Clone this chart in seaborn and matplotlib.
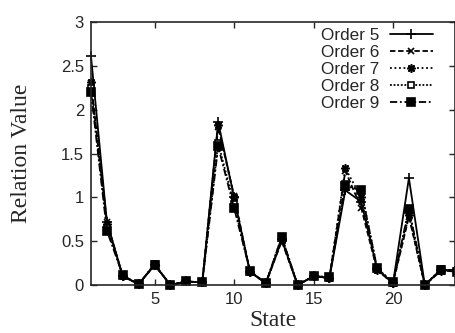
import numpy as np
import pandas as pd
import matplotlib
matplotlib.use("Agg")
import matplotlib.pyplot as plt
import seaborn as sns

states = list(range(1, 25))
order5 = [2.61, 0.72, 0.10, 0.01, 0.23, 0.00, 0.04, 0.03, 1.86, 1.00, 0.15, 0.02,
          0.52, 0.00, 0.10, 0.08, 1.08, 0.95, 0.18, 0.02, 1.22, 0.00, 0.17, 0.17]
order6 = [2.30, 0.72, 0.10, 0.01, 0.23, 0.00, 0.04, 0.03, 1.80, 1.02, 0.15, 0.02,
          0.50, 0.00, 0.10, 0.08, 1.30, 0.88, 0.17, 0.02, 0.78, 0.00, 0.16, 0.17]
order7 = [2.32, 0.70, 0.10, 0.01, 0.23, 0.00, 0.04, 0.03, 1.83, 1.00, 0.15, 0.02,
          0.51, 0.00, 0.10, 0.08, 1.33, 1.00, 0.17, 0.02, 0.80, 0.00, 0.16, 0.18]
order8 = [2.25, 0.65, 0.11, 0.01, 0.24, 0.00, 0.04, 0.03, 1.62, 0.92, 0.16, 0.02,
          0.55, 0.00, 0.10, 0.09, 1.15, 1.08, 0.19, 0.03, 0.85, 0.00, 0.18, 0.16]
order9 = [2.20, 0.62, 0.11, 0.01, 0.23, 0.00, 0.04, 0.03, 1.58, 0.88, 0.16, 0.02,
          0.55, 0.00, 0.10, 0.09, 1.13, 1.08, 0.19, 0.03, 0.87, 0.00, 0.17, 0.15]
labels = ["Order 5", "Order 6", "Order 7", "Order 8", "Order 9"]

sns.set_style("ticks")
plt.rcParams["font.family"] = ["Liberation Sans", "DejaVu Sans"]

df = pd.DataFrame({"State": states * 5,
                   "Value": order5 + order6 + order7 + order8 + order9,
                   "Order": np.repeat(labels, len(states))})

styles = {
    "Order 5": dict(linestyle="-", marker="+", ms=7, mfc="black"),
    "Order 6": dict(linestyle=(0, (3, 1.5)), marker="x", ms=5, mfc="black"),
    "Order 7": dict(linestyle=(0, (1, 1.5)), marker=(8, 2, 0), ms=6, mfc="black"),
    "Order 8": dict(linestyle=(0, (1, 1)), marker="s", ms=5, mfc="white"),
    "Order 9": dict(linestyle=(0, (4, 1.5, 1, 1.5)), marker="s", ms=6, mfc="black"),
}

fig = plt.figure(figsize=(4.56, 3.33), dpi=100)
ax = fig.add_axes([91 / 456, 1 - 285 / 333, (455 - 91) / 456, (285 - 22) / 333])

for lab in labels:
    sub = df[df["Order"] == lab]
    st = styles[lab]
    sns.lineplot(data=sub, x="State", y="Value", ax=ax, color="black", lw=1.3,
                 linestyle=st["linestyle"], marker=st["marker"], markersize=st["ms"],
                 markerfacecolor=st["mfc"], markeredgecolor="black", markeredgewidth=1.2,
                 label=lab, clip_on=False)

ax.set_xlim(1, 23.9)
ax.set_ylim(0, 3)
ax.set_xticks([5, 10, 15, 20])
ax.set_yticks([0, 0.5, 1, 1.5, 2, 2.5, 3])
ax.set_yticklabels(["0", "0.5", "1", "1.5", "2", "2.5", "3"])
ax.tick_params(direction="in", top=True, right=True, length=4, width=1, labelsize=12, pad=5)
for sp in ax.spines.values():
    sp.set_linewidth(1.2)
ax.set_xlabel("State", family="Liberation Serif", fontsize=17, labelpad=2)
ax.set_ylabel("Relation Value", family="Liberation Serif", fontsize=17, labelpad=21)

ax.legend(loc="upper right", bbox_to_anchor=(0.957, 1.005), frameon=False,
          markerfirst=False, fontsize=12.3, handlelength=2.5, labelspacing=0.12,
          borderaxespad=0, handletextpad=0.6)

fig.savefig("out.png", dpi=100)
